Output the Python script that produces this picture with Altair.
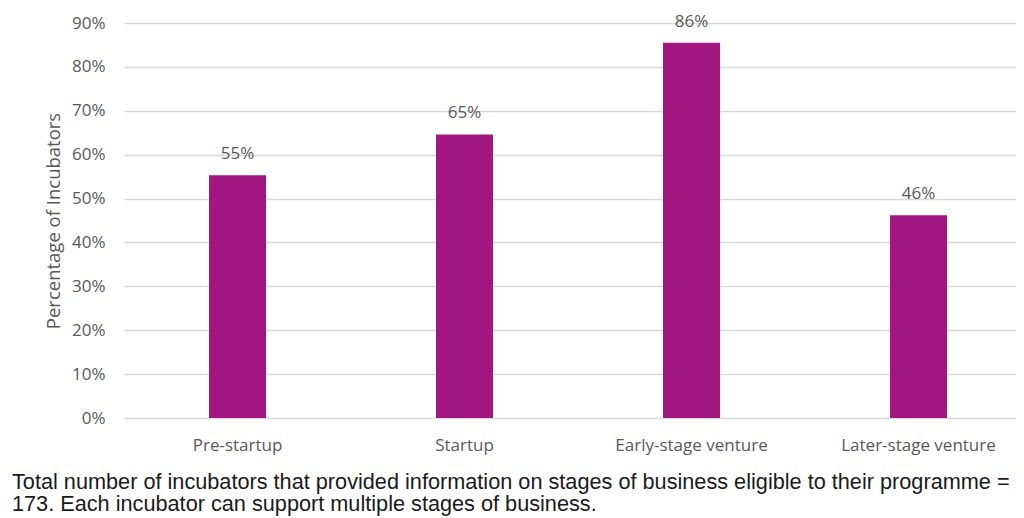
import altair as alt
import pandas as pd

categories = ["Pre-startup", "Startup", "Early-stage venture", "Later-stage venture"]
values = [0.553, 0.646, 0.855, 0.462]
labels = ["55%", "65%", "86%", "46%"]
y_ticks = [0.0, 0.1, 0.2, 0.3, 0.4, 0.5, 0.6, 0.7, 0.8, 0.9]
footnote = [
    "Total number of incubators that provided information on stages of business eligible to their programme =",
    "173. Each incubator can support multiple stages of business.",
]

df = pd.DataFrame({"stage": categories, "value": values, "label": labels})

FONT = "Open Sans"
GREY = "#595959"
BAR = "#A2177F"

x_enc = alt.X(
    "stage:N",
    sort=categories,
    scale=alt.Scale(paddingInner=0.749, paddingOuter=0.3393, align=0.552),
    axis=alt.Axis(
        title=None, labelAngle=0, domain=False, ticks=False,
        labelFont=FONT, labelFontSize=17, labelColor=GREY, labelPadding=19,
    ),
)
y_enc = alt.Y(
    "value:Q",
    scale=alt.Scale(domain=[0, 0.9], nice=False),
    axis=alt.Axis(
        title="Percentage of Incubators", values=y_ticks, format=".0%",
        domain=False, ticks=False, grid=True, gridColor="#d9d9d9", gridWidth=1.5,
        labelFont=FONT, labelFontSize=17, labelColor=GREY, labelPadding=19,
        titleFont=FONT, titleFontSize=18.5, titleColor=GREY, titleFontWeight="normal",
        titlePadding=8,
    ),
)

bars = alt.Chart(df).mark_bar(color=BAR).encode(x=x_enc, y=y_enc)
text = alt.Chart(df).mark_text(
    font=FONT, fontSize=17, color=GREY, baseline="alphabetic", dy=-16
).encode(x=alt.X("stage:N", sort=categories), y="value:Q", text="label:N")

chart = (
    alt.layer(bars, text)
    .properties(
        width=892,
        height=395,
        autosize=alt.AutoSizeParams(type="none"),
        padding={"left": 116, "top": 15, "right": 0, "bottom": 102},
        title=alt.TitleParams(
            text=footnote, orient="bottom", anchor="start", frame="group",
            dx=-112, offset=19, font="Liberation Sans", fontSize=21.7,
            fontWeight="normal", color="#1a1a1a", lineHeight=22,
        ),
    )
    .configure_view(stroke=None)
)

chart.save("out.html", embed_options={"renderer": "svg", "actions": False})
